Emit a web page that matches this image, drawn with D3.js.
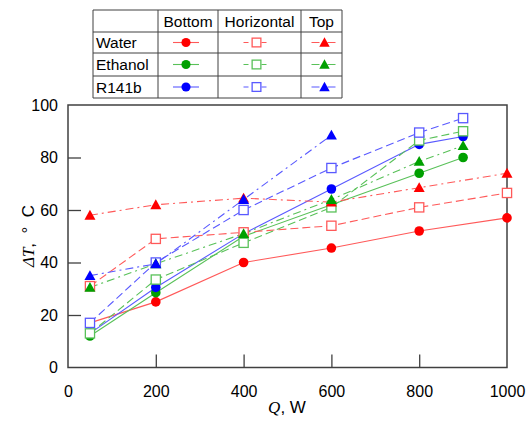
<!DOCTYPE html>
<html><head><meta charset="utf-8">
<script src="https://cdn.jsdelivr.net/npm/d3@7"></script>
<style>body{margin:0;background:#fff}svg{display:block}</style>
</head><body><svg id="c" width="526" height="421"></svg>
<script>
const fluids = ["Water", "Ethanol", "R141b"];
const orientations = ["Bottom", "Horizontal", "Top"];
const fluidColors = ["#ff0000", "#00a000", "#0000ff"];
const xTicks = [0, 200, 400, 600, 800, 1000];
const yTicks = [0, 20, 40, 60, 80, 100];

const qWater = [50, 200, 400, 600, 800, 1000];
const qEthanol = [50, 200, 400, 600, 800, 900];
const qR141b = [50, 200, 400, 600, 800, 900];
const qR141bTop = [50, 200, 400, 600];

const waterBottom = [17, 25, 40, 45.5, 52, 57];
const waterHorizontal = [31, 49, 51.5, 54, 61, 66.5];
const waterTop = [58, 62, 64.5, 63, 68.5, 74];
const ethanolBottom = [12, 28.5, 50, 62, 74, 80];
const ethanolHorizontal = [13, 33.5, 47.5, 61, 86.5, 90];
const ethanolTop = [30.5, 39.5, 51, 64, 78.5, 84.5];
const r141bBottom = [13, 30.5, 51, 68, 85, 88];
const r141bHorizontal = [17, 40, 60, 76, 89.5, 95];
const r141bTop = [35, 39.5, 64, 88.5];

const series = [
  {f:0, o:0, q:qWater, v:waterBottom},
  {f:1, o:0, q:qEthanol, v:ethanolBottom},
  {f:2, o:0, q:qR141b, v:r141bBottom},
  {f:0, o:1, q:qWater, v:waterHorizontal},
  {f:1, o:1, q:qEthanol, v:ethanolHorizontal},
  {f:2, o:1, q:qR141b, v:r141bHorizontal},
  {f:0, o:2, q:qWater, v:waterTop},
  {f:1, o:2, q:qEthanol, v:ethanolTop},
  {f:2, o:2, q:qR141bTop, v:r141bTop}
];

const svg = d3.select("#c");
const L = 68, R = 507, T = 105, B = 367.5;
const x = d3.scaleLinear().domain([0, 1000]).range([L, R]);
const y = d3.scaleLinear().domain([0, 100]).range([B, T]);
const dashes = ["none", "8,4", "8,4,2,4"];
const axisCol = "#404040";
const sans = "Liberation Sans, Arial, sans-serif";

function lighten(c){ return d3.interpolateRgb(c, "#ffffff")(0.35); }

function marker(g, o, col, cx, cy, s) {
  s = s || 1;
  if (o === 0) {
    g.append("circle").attr("cx", cx).attr("cy", cy).attr("r", 4.8*s).attr("fill", col);
  } else if (o === 1) {
    const h = 4.6*s;
    g.append("rect").attr("x", cx-h).attr("y", cy-h).attr("width", 2*h).attr("height", 2*h)
      .attr("fill", "#fff").attr("stroke", lighten(col)).attr("stroke-width", 1.3);
  } else {
    const h = 5.5*s;
    g.append("path").attr("d", `M${cx},${cy-h}L${cx+h},${cy+h*0.8}L${cx-h},${cy+h*0.8}Z`).attr("fill", col);
  }
}

// frame
svg.append("rect").attr("x", L).attr("y", T).attr("width", R-L).attr("height", B-T)
  .attr("fill", "none").attr("stroke", axisCol).attr("stroke-width", 1.5);

// axes
const xAxis = svg.append("g").attr("transform", `translate(0,${B})`)
  .call(d3.axisBottom(x).tickValues(xTicks).tickFormat(d3.format("d")).tickSizeInner(-13).tickSizeOuter(0).tickPadding(18));
const yAxis = svg.append("g").attr("transform", `translate(${L},0)`)
  .call(d3.axisLeft(y).tickValues(yTicks).tickFormat(d3.format("d")).tickSizeInner(-13).tickSizeOuter(0).tickPadding(10));
[xAxis, yAxis].forEach(a => {
  a.select(".domain").remove();
  a.selectAll("line").attr("stroke", axisCol).attr("stroke-width", 1.3);
  a.selectAll("text").attr("font-family", sans).attr("font-size", 16).attr("fill", "#000");
});
xAxis.selectAll(".tick").filter(d => d === 0 || d === 1000).select("line").remove();
yAxis.selectAll(".tick").filter(d => d === 0 || d === 100).select("line").remove();

// lines
const line = d3.line().x(d => x(d[0])).y(d => y(d[1]));
const plot = svg.append("g");
series.forEach(s => {
  const pts = s.q.map((q, i) => [q, s.v[i]]);
  plot.append("path").attr("d", line(pts)).attr("fill", "none")
    .attr("stroke", lighten(fluidColors[s.f])).attr("stroke-width", 1.1)
    .attr("stroke-dasharray", dashes[s.o] === "none" ? null : dashes[s.o]);
});
series.forEach(s => {
  s.q.forEach((q, i) => marker(plot, s.o, fluidColors[s.f], x(q), y(s.v[i])));
});

// axis titles
const ylab = svg.append("text").attr("transform", "translate(34,236) rotate(-90)")
  .attr("text-anchor", "middle").attr("font-size", 17).attr("fill", "#000")
  .attr("xml:space", "preserve");
ylab.append("tspan").attr("font-family", "Liberation Serif, serif").attr("font-style", "italic").text("ΔT");
ylab.append("tspan").attr("font-family", sans).text(",  °  C");
const xlab = svg.append("text").attr("x", 287).attr("y", 413)
  .attr("text-anchor", "middle").attr("font-size", 17).attr("fill", "#000");
xlab.append("tspan").attr("font-family", "Liberation Serif, serif").attr("font-style", "italic").text("Q");
xlab.append("tspan").attr("font-family", sans).text(", W");

// legend table
const colX = [93, 158, 218, 301, 342];
const rowY = [10, 32, 53, 76, 98];
const tbl = svg.append("g").attr("font-family", sans).attr("font-size", 15.5).attr("fill", "#000");
colX.forEach(cx => tbl.append("line").attr("x1", cx).attr("x2", cx).attr("y1", rowY[0]).attr("y2", rowY[4])
  .attr("stroke", "#404040").attr("stroke-width", 1));
rowY.forEach(ry => tbl.append("line").attr("x1", colX[0]).attr("x2", colX[4]).attr("y1", ry).attr("y2", ry)
  .attr("stroke", "#404040").attr("stroke-width", 1));
orientations.forEach((o, j) => {
  tbl.append("text").attr("x", (colX[j+1] + colX[j+2]) / 2).attr("y", (rowY[0] + rowY[1]) / 2 + 5.5)
    .attr("text-anchor", "middle").text(o);
});
fluids.forEach((f, i) => {
  const cy = (rowY[i+1] + rowY[i+2]) / 2;
  tbl.append("text").attr("x", colX[0] + 3).attr("y", cy + 5.5).text(f);
  orientations.forEach((o, j) => {
    const cx = (colX[j+1] + colX[j+2]) / 2 + [-2, -3, 3][j];
    tbl.append("line").attr("x1", cx - 13).attr("x2", cx + 13).attr("y1", cy).attr("y2", cy)
      .attr("stroke", lighten(fluidColors[i])).attr("stroke-width", 1.1)
      .attr("stroke-dasharray", j === 0 ? null : (j === 1 ? "5,4" : "8,3,2,3"));
    marker(tbl, j, fluidColors[i], cx, cy, 0.95);
  });
});
</script></body></html>
